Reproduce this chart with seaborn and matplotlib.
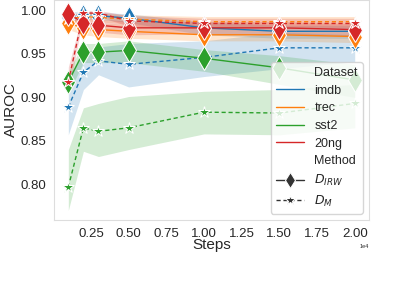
import numpy as np
import pandas as pd
import matplotlib
matplotlib.use("Agg")
import matplotlib.pyplot as plt
import seaborn as sns

###### Data
steps = [1000, 2000, 3000, 5000, 10000, 15000, 20000]
datasets = ["imdb", "trec", "sst2", "20ng"]
methods = ["$D_{IRW}$", "$D_M$"]

# mean AUROC per (dataset, method)
imdb_irw = [0.993, 0.994, 0.994, 0.991, 0.980, 0.976, 0.976]
imdb_m = [0.889, 0.929, 0.942, 0.938, 0.946, 0.957, 0.957]
trec_irw = [0.985, 0.980, 0.978, 0.976, 0.972, 0.972, 0.970]
trec_m = [0.990, 0.993, 0.992, 0.990, 0.987, 0.987, 0.987]
sst2_irw = [0.918, 0.952, 0.952, 0.954, 0.945, 0.934, 0.920]
sst2_m = [0.797, 0.865, 0.861, 0.865, 0.883, 0.882, 0.893]
ng20_irw = [0.996, 0.986, 0.983, 0.980, 0.980, 0.980, 0.978]
ng20_m = [0.918, 0.997, 0.997, 0.988, 0.985, 0.985, 0.985]

# error band bounds
imdb_irw_lo = [0.987, 0.990, 0.990, 0.986, 0.972, 0.968, 0.968]
imdb_irw_hi = [0.999, 0.998, 0.998, 0.996, 0.987, 0.983, 0.983]
imdb_m_lo = [0.857, 0.909, 0.926, 0.912, 0.924, 0.933, 0.941]
imdb_m_hi = [0.925, 0.950, 0.958, 0.962, 0.965, 0.975, 0.972]
trec_irw_lo = [0.978, 0.972, 0.970, 0.968, 0.965, 0.965, 0.963]
trec_irw_hi = [0.991, 0.988, 0.986, 0.984, 0.980, 0.979, 0.978]
trec_m_lo = [0.984, 0.988, 0.987, 0.984, 0.980, 0.980, 0.980]
trec_m_hi = [0.995, 0.998, 0.997, 0.995, 0.993, 0.993, 0.993]
sst2_irw_lo = [0.905, 0.940, 0.940, 0.940, 0.930, 0.915, 0.900]
sst2_irw_hi = [0.930, 0.962, 0.962, 0.965, 0.955, 0.948, 0.938]
sst2_m_lo = [0.770, 0.838, 0.832, 0.840, 0.858, 0.857, 0.865]
sst2_m_hi = [0.840, 0.888, 0.893, 0.901, 0.907, 0.909, 0.915]
ng20_irw_lo = [0.990, 0.978, 0.975, 0.972, 0.973, 0.973, 0.971]
ng20_irw_hi = [1.000, 0.993, 0.990, 0.988, 0.987, 0.987, 0.985]
ng20_m_lo = [0.905, 0.993, 0.993, 0.982, 0.979, 0.979, 0.979]
ng20_m_hi = [0.935, 1.000, 1.000, 0.994, 0.991, 0.991, 0.991]

series = {
    ("imdb", methods[0]): (imdb_irw, imdb_irw_lo, imdb_irw_hi),
    ("imdb", methods[1]): (imdb_m, imdb_m_lo, imdb_m_hi),
    ("trec", methods[0]): (trec_irw, trec_irw_lo, trec_irw_hi),
    ("trec", methods[1]): (trec_m, trec_m_lo, trec_m_hi),
    ("sst2", methods[0]): (sst2_irw, sst2_irw_lo, sst2_irw_hi),
    ("sst2", methods[1]): (sst2_m, sst2_m_lo, sst2_m_hi),
    ("20ng", methods[0]): (ng20_irw, ng20_irw_lo, ng20_irw_hi),
    ("20ng", methods[1]): (ng20_m, ng20_m_lo, ng20_m_hi),
}

rows = []
for (ds, me), (mean, lo, hi) in series.items():
    for s, v, l, h in zip(steps, mean, lo, hi):
        rows.append({"Steps": s, "AUROC": v, "lo": l, "hi": h, "Dataset": ds, "Method": me})
df = pd.DataFrame(rows)

sns.set_style("whitegrid")
plt.rcParams["font.family"] = ["Liberation Sans", "DejaVu Sans"]

fig = plt.figure(figsize=(3.98, 2.82), dpi=100)
ax = fig.add_axes([0.1357, 0.2199, 0.7915, 0.7801])

palette = dict(zip(datasets, sns.color_palette()[:4]))

sns.lineplot(data=df, x="Steps", y="AUROC", hue="Dataset", style="Method",
             hue_order=datasets, style_order=methods, palette=palette,
             markers={methods[0]: "d", methods[1]: "*"},
             dashes={methods[0]: "", methods[1]: (3, 2)},
             linewidth=1, markersize=10, errorbar=None, ax=ax)

# error bands
for (ds, me), (mean, lo, hi) in series.items():
    ax.fill_between(steps, lo, hi, color=palette[ds], alpha=0.2, linewidth=0, zorder=1)

for line in ax.lines:
    if line.get_marker() == "d":
        line.set_markersize(12.5)
    elif line.get_marker() == "*":
        line.set_markersize(9)

ax.grid(False)
for sp in ax.spines.values():
    sp.set_color("#dddddd")
ax.set_ylim(0.759, 1.012)
ax.set_yticks([0.80, 0.85, 0.90, 0.95, 1.00])
ax.ticklabel_format(axis="x", style="sci", scilimits=(4, 4))
ax.set_xticks([2500, 5000, 7500, 10000, 12500, 15000, 17500, 20000])
ax.tick_params(labelsize=9.5, pad=2)
ax.xaxis.get_offset_text().set_fontsize(4)
ax.set_xlabel("Steps", fontsize=11, labelpad=-1)
ax.set_ylabel("AUROC", fontsize=11, labelpad=2)

sns.move_legend(ax, "lower right", fontsize=9, title=None, frameon=True,
                handlelength=2.3, labelspacing=0.45, borderpad=0.4)
leg = ax.get_legend()
for h in leg.legend_handles:
    if hasattr(h, "get_marker"):
        if h.get_marker() == "d":
            h.set_markersize(8)
        elif h.get_marker() == "*":
            h.set_markersize(7)

fig.savefig("out.png", dpi=100)
